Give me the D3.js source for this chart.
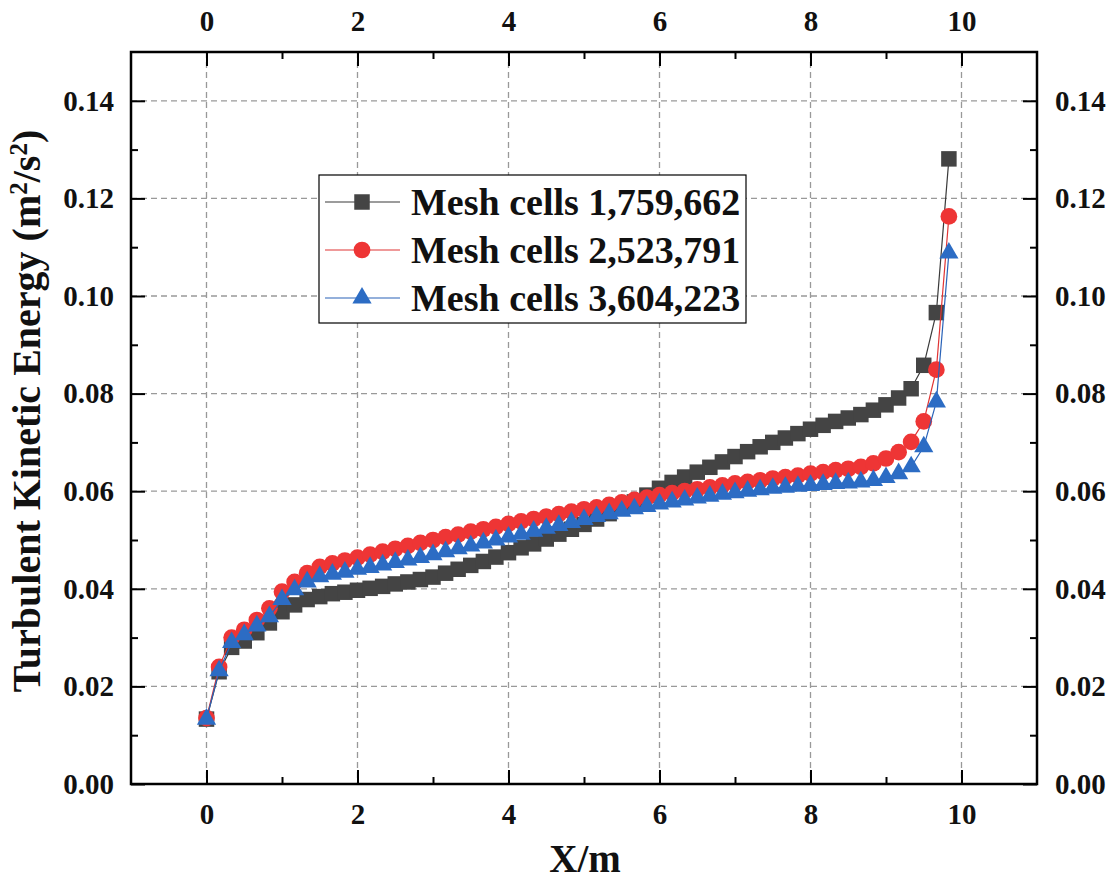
<!DOCTYPE html>
<html>
<head>
<meta charset="utf-8">
<script src="https://cdn.jsdelivr.net/npm/d3@7"></script>
<style>
  body { margin: 0; background: #fff; }
  svg { display: block; }
  text { font-family: "Liberation Serif", "Times New Roman", serif; font-weight: bold; fill: #111; }
</style>
</head>
<body>
<svg id="chart" width="1111" height="894"></svg>
<script>
// Sampling positions along the line (m)
const positions = [0, 0.167, 0.333, 0.5, 0.667, 0.833, 1, 1.167, 1.333, 1.5,
  1.667, 1.833, 2, 2.167, 2.333, 2.5, 2.667, 2.833, 3, 3.167,
  3.333, 3.5, 3.667, 3.833, 4, 4.167, 4.333, 4.5, 4.667, 4.833,
  5, 5.167, 5.333, 5.5, 5.667, 5.833, 6, 6.167, 6.333, 6.5,
  6.667, 6.833, 7, 7.167, 7.333, 7.5, 7.667, 7.833, 8, 8.167,
  8.333, 8.5, 8.667, 8.833, 9, 9.167, 9.333, 9.5, 9.667, 9.833];

// Turbulent kinetic energy (m2/s2), mesh of 1,759,662 cells
const tkeCoarse = [0.0133, 0.0230, 0.0280, 0.0293, 0.0310, 0.0330, 0.0353, 0.0367, 0.0378, 0.0384,
  0.0390, 0.0393, 0.0397, 0.0401, 0.0405, 0.0410, 0.0414, 0.0419, 0.0424, 0.0432,
  0.0440, 0.0448, 0.0456, 0.0465, 0.0474, 0.0484, 0.0492, 0.0502, 0.0512, 0.0522,
  0.0532, 0.0543, 0.0554, 0.0566, 0.0578, 0.0592, 0.0606, 0.0618, 0.0629, 0.0639,
  0.0649, 0.0660, 0.0671, 0.0681, 0.0691, 0.0700, 0.0709, 0.0718, 0.0727, 0.0735,
  0.0743, 0.0750, 0.0757, 0.0766, 0.0777, 0.0791, 0.0810, 0.0858, 0.0966, 0.1281];

// Mesh of 2,523,791 cells
const tkeMedium = [0.0135, 0.0240, 0.0300, 0.0316, 0.0336, 0.0360, 0.0394, 0.0414, 0.0432, 0.0445,
  0.0452, 0.0458, 0.0464, 0.0470, 0.0476, 0.0482, 0.0488, 0.0494, 0.0500, 0.0506,
  0.0511, 0.0517, 0.0522, 0.0527, 0.0533, 0.0538, 0.0543, 0.0548, 0.0553, 0.0558,
  0.0563, 0.0567, 0.0572, 0.0577, 0.0582, 0.0587, 0.0592, 0.0596, 0.0600, 0.0604,
  0.0608, 0.0612, 0.0616, 0.0619, 0.0622, 0.0626, 0.0629, 0.0632, 0.0636, 0.0639,
  0.0643, 0.0646, 0.0650, 0.0657, 0.0667, 0.0680, 0.0701, 0.0743, 0.0849, 0.1163];

// Mesh of 3,604,223 cells
const tkeFine = [0.0133, 0.0232, 0.0290, 0.0306, 0.0324, 0.0343, 0.0378, 0.0398, 0.0414, 0.0425,
  0.0430, 0.0434, 0.0440, 0.0444, 0.0449, 0.0454, 0.0459, 0.0464, 0.0470, 0.0476,
  0.0482, 0.0488, 0.0494, 0.0500, 0.0506, 0.0512, 0.0518, 0.0524, 0.0530, 0.0536,
  0.0542, 0.0548, 0.0554, 0.0559, 0.0564, 0.0569, 0.0574, 0.0578, 0.0582, 0.0586,
  0.0590, 0.0594, 0.0597, 0.0600, 0.0603, 0.0606, 0.0608, 0.0610, 0.0612, 0.0614,
  0.0616, 0.0617, 0.0619, 0.0622, 0.0628, 0.0636, 0.0650, 0.0691, 0.0783, 0.1088];

const seriesNames = ["Mesh cells 1,759,662", "Mesh cells 2,523,791", "Mesh cells 3,604,223"];
const xTicks = [0, 2, 4, 6, 8, 10];
const xMinorTicks = [-1, 1, 3, 5, 7, 9, 11];
const yTicks = [0, 0.02, 0.04, 0.06, 0.08, 0.10, 0.12, 0.14];
const yMinorTicks = [0.01, 0.03, 0.05, 0.07, 0.09, 0.11, 0.13, 0.15];

const series = [
  { name: seriesNames[0], values: tkeCoarse, line: "#3a3a3a", fill: "#444444", symbol: d3.symbolSquare, size: 240 },
  { name: seriesNames[1], values: tkeMedium, line: "#e03434", fill: "#ee3535", symbol: d3.symbolCircle, size: 220 },
  { name: seriesNames[2], values: tkeFine, line: "#2a63b8", fill: "#2c6cc4", symbol: d3.symbolTriangle, size: 160 }
];

const svg = d3.select("#chart");
const box = { left: 131, right: 1037, top: 52, bottom: 784 };

const x = d3.scaleLinear().domain([-1, 11]).range([box.left, box.right]);
const y = d3.scaleLinear().domain([0, 0.15]).range([box.bottom, box.top]);

// dashed grid at the major ticks
const grid = svg.append("g").attr("stroke", "#999").attr("stroke-width", 1.3).attr("stroke-dasharray", "6,4");
grid.selectAll(".gx").data(xTicks).join("line")
  .attr("x1", d => x(d)).attr("x2", d => x(d))
  .attr("y1", box.top).attr("y2", box.bottom);
grid.selectAll(".gy").data(yTicks.filter(d => d > 0)).join("line")
  .attr("x1", box.left).attr("x2", box.right)
  .attr("y1", d => y(d)).attr("y2", d => y(d));

// data series: line plus markers, drawn coarse -> fine
const line = d3.line().x((d, i) => x(positions[i])).y(d => y(d));
series.forEach(s => {
  const g = svg.append("g");
  g.append("path").datum(s.values).attr("d", line)
    .attr("fill", "none").attr("stroke", s.line).attr("stroke-width", 1.2);
  g.selectAll("path.m").data(s.values).join("path").attr("class", "m")
    .attr("transform", (d, i) => `translate(${x(positions[i])},${y(d)})`)
    .attr("d", d3.symbol().type(s.symbol).size(s.size))
    .attr("fill", s.fill);
});

// axes on all four sides, ticks pointing inward
const fmtX = d3.format("d");
const fmtY = d3.format(".2f");
function styleAxis(g) {
  g.select(".domain").remove();
  g.selectAll(".tick line").attr("stroke", "#000").attr("stroke-width", 2);
  g.selectAll("text").style("font-size", "29px").attr("fill", "#111");
}
svg.append("g").attr("transform", `translate(0,${box.bottom})`)
  .call(d3.axisBottom(x).tickValues(xTicks).tickFormat(fmtX).tickSizeInner(-14).tickSizeOuter(0).tickPadding(19))
  .call(styleAxis);
svg.append("g").attr("transform", `translate(0,${box.top})`)
  .call(d3.axisTop(x).tickValues(xTicks).tickFormat(fmtX).tickSizeInner(-14).tickSizeOuter(0).tickPadding(21))
  .call(styleAxis);
svg.append("g").attr("transform", `translate(${box.left},0)`)
  .call(d3.axisLeft(y).tickValues(yTicks).tickFormat(fmtY).tickSizeInner(-14).tickSizeOuter(0).tickPadding(17))
  .call(styleAxis);
svg.append("g").attr("transform", `translate(${box.right},0)`)
  .call(d3.axisRight(y).tickValues(yTicks).tickFormat(fmtY).tickSizeInner(-14).tickSizeOuter(0).tickPadding(18))
  .call(styleAxis);

// minor ticks
const minorX = xMinorTicks.filter(d => d > -1 && d < 11);
const minorY = yMinorTicks.filter(d => d < 0.15);
[[d3.axisBottom(x).tickValues(minorX), `translate(0,${box.bottom})`],
 [d3.axisTop(x).tickValues(minorX), `translate(0,${box.top})`],
 [d3.axisLeft(y).tickValues(minorY), `translate(${box.left},0)`],
 [d3.axisRight(y).tickValues(minorY), `translate(${box.right},0)`]].forEach(([ax, tr]) => {
  svg.append("g").attr("transform", tr)
    .call(ax.tickFormat("").tickSizeInner(-7).tickSizeOuter(0))
    .call(styleAxis);
});

// frame
svg.append("rect")
  .attr("x", box.left).attr("y", box.top)
  .attr("width", box.right - box.left).attr("height", box.bottom - box.top)
  .attr("fill", "none").attr("stroke", "#000").attr("stroke-width", 2.5);

// axis titles
svg.append("text").attr("x", (box.left + box.right) / 2 + 1).attr("y", 872)
  .attr("text-anchor", "middle").style("font-size", "39px").text("X/m");

const yTitle = svg.append("text")
  .attr("transform", `translate(40,${(box.top + box.bottom) / 2 - 7}) rotate(-90)`)
  .attr("text-anchor", "middle").style("font-size", "40px");
yTitle.append("tspan").text("Turbulent Kinetic Energy (m");
yTitle.append("tspan").attr("baseline-shift", "super").style("font-size", "25px").text("2");
yTitle.append("tspan").text("/s");
yTitle.append("tspan").attr("baseline-shift", "super").style("font-size", "25px").text("2");
yTitle.append("tspan").text(")");

// legend
const legend = svg.append("g");
legend.append("rect").attr("x", 319).attr("y", 175).attr("width", 427).attr("height", 148)
  .attr("fill", "#fff").attr("stroke", "#000").attr("stroke-width", 1.2);
const rowY = [202, 250, 298];
series.forEach((s, i) => {
  const ry = rowY[i];
  legend.append("line").attr("x1", 325).attr("x2", 400).attr("y1", ry).attr("y2", ry)
    .attr("stroke", s.line).attr("stroke-width", 1.2);
  legend.append("path").attr("transform", `translate(362,${ry})`)
    .attr("d", d3.symbol().type(s.symbol).size(s.size)).attr("fill", s.fill);
  legend.append("text").attr("x", 411).attr("y", ry + 13)
    .style("font-size", "38px").text(s.name);
});
</script>
</body>
</html>
